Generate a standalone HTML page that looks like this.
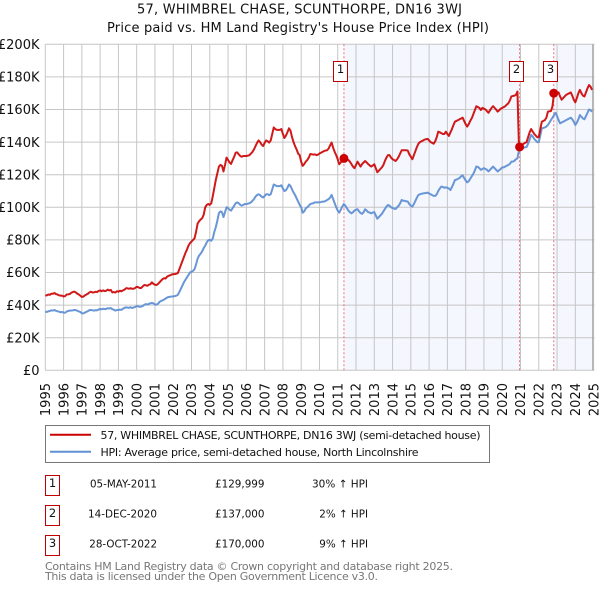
<!DOCTYPE html>
<html>
<head>
<meta charset="utf-8">
<title>57, Whimbrel Chase price chart</title>
<style>
html,body{margin:0;padding:0;background:#fff;width:600px;height:590px;overflow:hidden}
svg{display:block;font-family:"DejaVu Sans","Liberation Sans",sans-serif;filter:blur(0.3px)}
</style>
</head>
<body>
<svg id="chart" width="600" height="590" viewBox="0 0 600 590" xmlns="http://www.w3.org/2000/svg">
  <g fill="#111" font-size="13" text-anchor="middle">
    <text x="299.5" y="13.5" textLength="325" lengthAdjust="spacing">57, WHIMBREL CHASE, SCUNTHORPE, DN16 3WJ</text>
    <text x="298" y="32" textLength="382" lengthAdjust="spacing">Price paid vs. HM Land Registry's House Price Index (HPI)</text>
  </g>
  <g id="bands"></g>
  <g id="grid"></g>
  <g id="ylabels" font-size="13" fill="#111" text-anchor="end"></g>
  <g id="xlabels" font-size="13" fill="#111" text-anchor="end"></g>
  <g id="series"></g>
  <g id="sales"></g>

  <g>
    <rect x="45.5" y="425.5" width="444" height="37" fill="#fff" stroke="#777" stroke-width="1"/>
    <line x1="50" x2="91" y1="434.7" y2="434.7" stroke="#cc0000" stroke-width="2"/>
    <line x1="50" x2="91" y1="451.7" y2="451.7" stroke="#6090d4" stroke-width="2"/>
    <text x="100.5" y="439" font-size="11" fill="#111" textLength="380" lengthAdjust="spacing">57, WHIMBREL CHASE, SCUNTHORPE, DN16 3WJ (semi-detached house)</text>
    <text x="100.5" y="456" font-size="11" fill="#111" textLength="318" lengthAdjust="spacing">HPI: Average price, semi-detached house, North Lincolnshire</text>
  </g>

  <g font-size="10.7" fill="#111">
    <g>
      <rect x="45.5" y="475.5" width="14" height="20" fill="#fff" stroke="#c00000"/>
      <text x="52.5" y="487" text-anchor="middle" font-size="11.5">1</text>
      <text x="90" y="487.3" textLength="67" lengthAdjust="spacingAndGlyphs">05-MAY-2011</text>
      <text x="215" y="487.3" textLength="49.5" lengthAdjust="spacingAndGlyphs">£129,999</text>
      <text x="312" y="487.3" textLength="56" lengthAdjust="spacingAndGlyphs">30% ↑ HPI</text>
    </g>
    <g>
      <rect x="45.5" y="505.5" width="14" height="20" fill="#fff" stroke="#c00000"/>
      <text x="52.5" y="517" text-anchor="middle" font-size="11.5">2</text>
      <text x="88" y="517.3" textLength="69" lengthAdjust="spacingAndGlyphs">14-DEC-2020</text>
      <text x="215" y="517.3" textLength="49.5" lengthAdjust="spacingAndGlyphs">£137,000</text>
      <text x="319.3" y="517.3" textLength="48.7" lengthAdjust="spacingAndGlyphs">2% ↑ HPI</text>
    </g>
    <g>
      <rect x="45.5" y="535.5" width="14" height="20" fill="#fff" stroke="#c00000"/>
      <text x="52.5" y="547" text-anchor="middle" font-size="11.5">3</text>
      <text x="89.3" y="547.3" textLength="67.7" lengthAdjust="spacingAndGlyphs">28-OCT-2022</text>
      <text x="215" y="547.3" textLength="49.5" lengthAdjust="spacingAndGlyphs">£170,000</text>
      <text x="319.3" y="547.3" textLength="48.7" lengthAdjust="spacingAndGlyphs">9% ↑ HPI</text>
    </g>
  </g>

  <g font-size="11" fill="#777">
    <text x="45" y="570" textLength="408" lengthAdjust="spacing">Contains HM Land Registry data © Crown copyright and database right 2025.</text>
    <text x="45" y="580" textLength="333" lengthAdjust="spacing">This data is licensed under the Open Government Licence v3.0.</text>
  </g>
</svg>
<script>
var startYear = 1995;
var yearLabels = [1995,1996,1997,1998,1999,2000,2001,2002,2003,2004,2005,2006,2007,2008,2009,2010,2011,2012,2013,2014,2015,2016,2017,2018,2019,2020,2021,2022,2023,2024,2025];
var priceTicks = [0,20,40,60,80,100,120,140,160,180,200];
var priceTickLabels = ['£0','£20K','£40K','£60K','£80K','£100K','£120K','£140K','£160K','£180K','£200K'];
var saleLabels = ['1','2','3'];
var saleYears = [2011.34,2020.95,2022.82];
var salePrices = [129.999,137,170];
var priceSeries = [
46,46,46.5,46.3,47,47,47.4,46.8,46.5,46,45.8,45.8,
45.3,45.5,46.5,46.6,46.8,47.5,48,48.3,47.8,47,46.5,45.8,
45,45.2,46,46.5,47,47.8,48.2,47.7,47.8,48.2,48,48.7,
49,48.5,49,48.6,48.8,49.5,49,49.3,47.8,48,47.7,48.5,
48.2,48.8,48.5,49,49.5,50.3,50.3,50,50.4,50,50,50.5,
51.2,51,50.5,50.5,51.5,52.3,52.2,51.8,52.5,52.8,54,53,
52.5,52.3,53,54,55,56,56.5,56.3,57.5,58,58.3,58.8,
59,59,59.3,59.6,62,64.5,67,69.5,72,74,76.5,78,
79,80,81,85,90,91.5,92.5,93.3,95.5,100,101.5,102,
101.5,102.5,107,112,117,121,125,126,125.5,122,126,130.5,
129,127.5,126.6,129,131,133.5,133.7,132.5,131.5,131,131.5,131.5,
131.5,131.7,132,133,134,135.5,137.5,139.5,141,140,138.5,137.6,
139.5,141,140.5,139.7,141,145,149,148,147.5,147.5,147.5,148,
145,142.5,144,146,148.5,147,143,140,137.5,135.5,133,132,
128,125.4,126.5,128,129,130.5,132.7,132.5,132.3,132.5,132,132.3,
133,133.5,134,134.5,134.8,135,136,138,139.7,136.5,134,132,
129.5,126.4,127.5,129,130,129.8,129.5,129,128,126.5,125,124,
126,128,126.5,125,126.5,127.5,128.4,127.5,126.5,125.7,125,125.7,
126.4,124,121.5,122.5,123.5,124.5,126,128.5,130.5,132,132,130.5,
129.5,129,128.4,129.5,131,133,135,135,135,135,134.8,132.5,
131,129.5,132,134.5,137,139,140,140.5,141,141.5,141.8,142,
141,140,139.5,139,140.5,143,146.4,146,145.5,145,145,146.4,
145,143.8,146,148,150.5,152.6,153,153.5,154,154.5,155,153,
151,149.5,151,153,154.6,157,159.5,162,161.5,161,159.7,161,
160.5,160,159,158,159.5,161,162,161,160,158.7,159.5,160.5,
161,161.5,162,163,163.8,165.5,168,168.3,168.5,169,171,137,
137.5,138,139,139.5,140,143,146,148,146.5,145,144,143,
143,148,152.5,153,153.5,155,158.7,158.9,159,162,170,170.5,
170,170.5,168,166,167,168,169,169.5,170,170.5,168.5,166,
164.4,167,170,172,170,168.5,168,170.5,173,175,174,172
];
var hpiSeries = [
36,35.8,36.2,36.4,36.8,36.6,37,36.5,36.2,36,35.6,35.8,
35.4,35.3,36,36.4,36.6,36.7,36.8,37,36.9,36.6,36.1,35.8,
35,34.9,35.4,35.9,36.3,36.9,37,36.8,36.6,36.9,36.8,37.3,
37.6,37.4,37.8,37.5,37.7,38.1,37.9,38.2,37.5,37.2,36.6,37,
37,37.2,37.1,37.8,38.3,38.6,38.5,38.3,38.7,38.2,38.6,38.8,
39.4,39.2,39,39.1,39.5,40.2,40.6,40.3,40.7,41.1,41.3,41,
40.4,40.3,40.8,42,42.5,42.9,43.4,44,44.6,45,45.1,45.3,
45.3,45.5,45.8,46.3,48,50,52,54,55.5,57,58.5,60,
60.5,61,62,65,68.5,70.5,71.5,73,75,76.5,78.5,79.8,
80,79.5,81,85,88,92,96.5,97.5,97,94,97,100,
99.5,98.5,98,99.5,101,102.5,103,102.5,101.5,101,101.5,102,
102,102.2,102.5,103,104,105,106.5,107.5,108,107.5,106.5,106,
107,108,108,107.5,108,111,114,113.5,113,113,113,113.5,
111.5,110,110.5,112,114,113,111,109,107.5,105.5,103.5,101.5,
100,96.7,97.5,99.4,100,101,102,102.3,102.5,103,103,103,
103,103.2,103.5,103.5,103.8,104.5,105,106,107.6,105,102.5,100,
98,96.7,98.5,100.5,102,101,99.5,98,97,96.3,97,98,
98.5,98.8,97.5,96.5,96,97,98.8,98,97,96.8,96.3,96.8,
97,95,93,94,95,96,97.5,99,100.5,101.4,101,100,
99.5,99.2,99,100,101,102.5,104.5,104,104,103.7,103.5,102,
101,100.4,102,104,106,107.6,108,108.3,108.5,108.7,108.8,109,
108.5,108,107.5,107,107,108,110,111.5,112.7,112.5,112,112.2,
112,111.5,110.6,112.5,114.5,116.8,117,117.5,118,119,119.6,118,
116.5,115.3,116,117.5,119,120.5,122.5,125,124.8,124,123,123.5,
124,123.5,123,122,123,124,125,124,123,122,122.8,123.5,
124.5,124.5,125,125.5,126,126.6,128,128,128.5,129.5,130,135,
135.5,136,136.5,136.8,137,139,141.5,144.4,143.5,142,141,140,
140,144,148.5,148.7,149,149.5,150.5,152,153.5,155,156.5,158,
156,153.5,151.5,152,152.5,153,153.5,154,154.5,155,154,152.5,
150.5,152,154,156.6,155.5,154.5,154,156,158,160,159.5,158.7
];

var NS = 'http://www.w3.org/2000/svg';
var plotLeft = 45.3, plotRight = 593.6, plotTop = 44.3, plotBottom = 370.3;
var endYear = 2025, maxPrice = 200;
function xAt(year){ return plotLeft + (year - startYear) / (endYear - startYear) * (plotRight - plotLeft); }
function yAt(price){ return plotBottom - price / maxPrice * (plotBottom - plotTop); }
function make(tag, parentId){
  var el = document.createElementNS(NS, tag);
  document.getElementById(parentId).appendChild(el);
  return el;
}
function setAll(el, attrs){ for (var k in attrs) el.setAttribute(k, attrs[k]); }

// shaded periods after each sale
saleYears.forEach(function(y, i){
  if (i === 1) return;
  var next = i === 0 ? saleYears[1] : endYear;
  var r = make('rect', 'bands');
  setAll(r, {x: xAt(y), y: plotTop, width: xAt(next) - xAt(y), height: plotBottom - plotTop, fill: '#f4f7fe'});
  
  
});

// grid and tick labels
priceTicks.forEach(function(p, i){
  var l = make('line', 'grid');
  setAll(l, {x1: plotLeft, x2: plotRight + 1, y1: yAt(p), y2: yAt(p), stroke: '#c6c6c6', 'stroke-width': 1});
  
  
  var t = make('text', 'ylabels');
  setAll(t, {x: 39.5, y: yAt(p) + 4.7});
  t.textContent = priceTickLabels[i];
  
  
});
yearLabels.forEach(function(yr){
  var x = xAt(yr);
  var l = make('line', 'grid');
  setAll(l, {x1: x, x2: x, y1: plotTop, y2: plotBottom, stroke: '#c6c6c6', 'stroke-width': 1});
  
  
  var t = make('text', 'xlabels');
  setAll(t, {transform: 'translate(' + (x + 4.7) + ',383) rotate(-90)'});
  t.textContent = String(yr);
  
  
});
var edge = make('line', 'grid');
setAll(edge, {x1: 592.8, x2: 592.8, y1: plotTop, y2: plotBottom, stroke: '#999', 'stroke-width': 1});



// sale guide lines
saleYears.forEach(function(y){
  var l = make('line', 'series');
  setAll(l, {x1: xAt(y), x2: xAt(y), y1: plotTop, y2: plotBottom, stroke: '#ee5566', 'stroke-width': 1, 'stroke-dasharray': '2 2', opacity: 0.85});
  
  
});

// series
function linePoints(values){
  return values.map(function(v, i){ return xAt(startYear + i / 12).toFixed(2) + ',' + yAt(v).toFixed(2); }).join(' ');
}
var hpiLine = make('polyline', 'series');
setAll(hpiLine, {points: linePoints(hpiSeries), fill: 'none', stroke: '#6090d4', 'stroke-width': 2, 'stroke-linejoin': 'round', opacity: 0.95});


var priceLine = make('polyline', 'series');
setAll(priceLine, {points: linePoints(priceSeries), fill: 'none', stroke: '#cc0000', 'stroke-width': 2, 'stroke-linejoin': 'round', opacity: 0.9});



// sale markers and numbered flags
saleYears.forEach(function(y, i){
  var c = make('circle', 'sales');
  setAll(c, {cx: xAt(y), cy: yAt(salePrices[i]), r: 4.5, fill: '#cc0000'});
  
  
  var b = make('rect', 'sales');
  setAll(b, {x: Math.round(xAt(y) - 10.5) + 0.5, y: 61.5, width: 14, height: 20, fill: '#fff', stroke: '#c00000', 'stroke-width': 1});
  
  
  var t = make('text', 'sales');
  setAll(t, {x: Math.round(xAt(y) - 10.5) + 7.5, y: 73, 'text-anchor': 'middle', 'font-size': 11.5, fill: '#111'});
  t.textContent = saleLabels[i];
  
  
});
</script>
</body>
</html>
